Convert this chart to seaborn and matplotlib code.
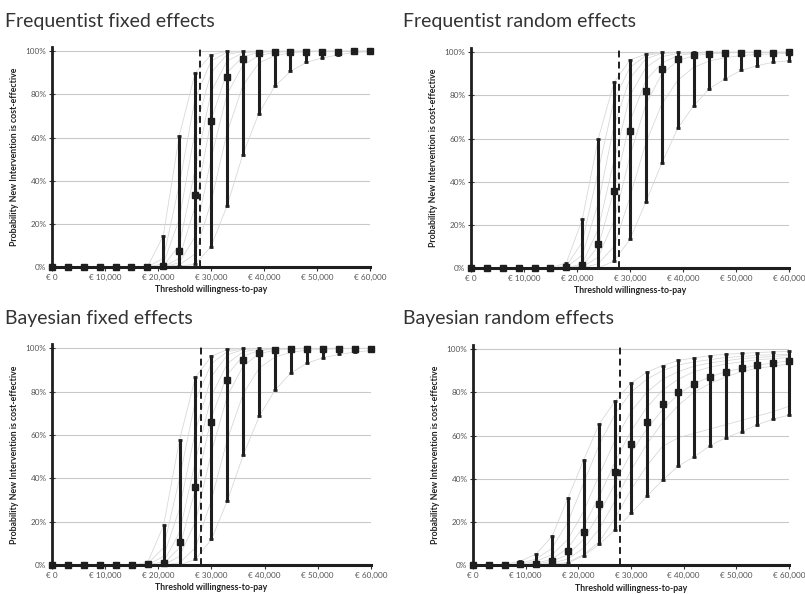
import matplotlib
matplotlib.use("Agg")
import matplotlib.pyplot as plt
import matplotlib.ticker as mticker
import seaborn as sns
import pandas as pd
import numpy as np

# ------------------------------------------------------------
# data (probability in %)
# ------------------------------------------------------------
wtp = [0, 3000, 6000, 9000, 12000, 15000, 18000, 21000, 24000, 27000, 30000,
       33000, 36000, 39000, 42000, 45000, 48000, 51000, 54000, 57000, 60000]
threshold = 28000

titles = ["Frequentist fixed effects", "Frequentist random effects",
          "Bayesian fixed effects", "Bayesian random effects"]

# --- Frequentist fixed effects
ffe_mean = [0, 0, 0, 0, 0, 0, 0, 0.3, 7.2, 33.4, 67.8, 87.9, 96.4, 99.0, 99.5, 99.8, 99.8, 99.9, 99.9, 100, 100]
ffe_low = [0, 0, 0, 0, 0, 0, 0, 0, 0.5, 1.2, 9.5, 28.1, 52.1, 71.0, 83.7, 90.7, 94.9, 96.9, 98.3, 99.5, 99.8]
ffe_high = [0, 0, 0, 0, 0, 0, 0, 14.5, 60.7, 89.9, 98.4, 100, 100, 100, 100, 100, 100, 100, 100, 100, 100]
ffe_curves = [
    [0, 0, 0, 0, 0, 0, 0, 14.5, 60.7, 89.9, 98.4, 100, 100, 100, 100, 100, 100, 100, 100, 100, 100],
    [0, 0, 0, 0, 0, 0, 0, 4, 38, 78, 95.5, 99.5, 100, 100, 100, 100, 100, 100, 100, 100, 100],
    [0, 0, 0, 0, 0, 0, 0, 1.5, 22, 63, 90, 98.5, 99.8, 100, 100, 100, 100, 100, 100, 100, 100],
    [0, 0, 0, 0, 0, 0, 0, 0.5, 10, 45, 81, 95.5, 99.2, 99.9, 100, 100, 100, 100, 100, 100, 100],
    [0, 0, 0, 0, 0, 0, 0, 0, 4, 28, 68, 90, 97.5, 99.5, 99.9, 100, 100, 100, 100, 100, 100],
    [0, 0, 0, 0, 0, 0, 0, 0, 2, 14, 50, 80, 93.5, 98, 99.5, 99.9, 100, 100, 100, 100, 100],
    [0, 0, 0, 0, 0, 0, 0, 0, 1, 6, 30, 62, 84, 94.5, 98, 99.3, 99.8, 99.9, 100, 100, 100],
    [0, 0, 0, 0, 0, 0, 0, 0, 0.5, 1.2, 9.5, 28.1, 52.1, 71, 83.7, 90.7, 94.9, 96.9, 98.3, 99.5, 99.8],
]

# --- Frequentist random effects
fre_mean = [0, 0, 0, 0, 0, 0, 0.3, 1.2, 11.0, 35.6, 63.3, 81.9, 92.3, 96.7, 98.6, 99.2, 99.7, 99.9, 99.9, 99.9, 100]
fre_low = [0, 0, 0, 0, 0, 0, 0, 0, 0, 3.3, 13.3, 30.7, 48.6, 64.7, 75.2, 83.2, 87.8, 91.7, 93.8, 95.4, 96.1]
fre_high = [0, 0, 0, 0, 0, 0, 2.5, 22.6, 59.8, 86.1, 96.4, 99.2, 100, 100, 100, 100, 100, 100, 100, 100, 100]
fre_curves = [
    [0, 0, 0, 0, 0, 0, 2.5, 22.6, 59.8, 86.1, 96.4, 99.2, 100, 100, 100, 100, 100, 100, 100, 100, 100],
    [0, 0, 0, 0, 0, 0, 1, 12, 45, 78, 93, 98.5, 99.8, 100, 100, 100, 100, 100, 100, 100, 100],
    [0, 0, 0, 0, 0, 0, 0.5, 6, 30, 66, 88, 97, 99.5, 99.9, 100, 100, 100, 100, 100, 100, 100],
    [0, 0, 0, 0, 0, 0, 0, 2, 18, 50, 80, 93, 98, 99.5, 99.8, 100, 100, 100, 100, 100, 100],
    [0, 0, 0, 0, 0, 0, 0, 1, 10, 36, 68, 87, 95, 98.5, 99.5, 99.8, 100, 100, 100, 100, 100],
    [0, 0, 0, 0, 0, 0, 0, 0.5, 5, 22, 52, 76, 90, 96, 98.5, 99.3, 99.7, 99.9, 100, 100, 100],
    [0, 0, 0, 0, 0, 0, 0, 0, 2, 10, 33, 58, 76, 87, 93, 96, 97.5, 98.5, 99, 99.3, 99.5],
    [0, 0, 0, 0, 0, 0, 0, 0, 0, 3.3, 13.3, 30.7, 48.6, 64.7, 75.2, 83.2, 87.8, 91.7, 93.8, 95.4, 96.1],
]

# --- Bayesian fixed effects
bfe_mean = [0, 0, 0, 0, 0, 0, 0.3, 0.9, 10.4, 35.9, 66.1, 85.6, 94.6, 97.7, 99.2, 99.7, 99.7, 99.7, 99.7, 99.7, 99.7]
bfe_low = [0, 0, 0, 0, 0, 0, 0, 0, 0, 2.6, 11.8, 29.6, 50.8, 68.6, 80.9, 88.7, 93.2, 95.7, 97.2, 98.3, 99.0]
bfe_high = [0, 0, 0, 0, 0, 0, 1.2, 18.3, 57.7, 86.7, 96.4, 99.5, 100, 100, 100, 100, 100, 100, 100, 100, 100]
bfe_curves = [
    [0, 0, 0, 0, 0, 0, 1.2, 18.3, 57.7, 86.7, 96.4, 99.5, 100, 100, 100, 100, 100, 100, 100, 100, 100],
    [0, 0, 0, 0, 0, 0, 0.5, 8, 40, 76, 93, 98.5, 99.8, 100, 100, 100, 100, 100, 100, 100, 100],
    [0, 0, 0, 0, 0, 0, 0, 4, 26, 62, 87, 97, 99.5, 100, 100, 100, 100, 100, 100, 100, 100],
    [0, 0, 0, 0, 0, 0, 0, 1.5, 15, 48, 78, 93, 98.5, 99.6, 99.9, 100, 100, 100, 100, 100, 100],
    [0, 0, 0, 0, 0, 0, 0, 0.5, 8, 35, 68, 88, 96.5, 99, 99.7, 99.9, 100, 100, 100, 100, 100],
    [0, 0, 0, 0, 0, 0, 0, 0, 4, 20, 52, 78, 92, 97.5, 99.2, 99.7, 99.9, 100, 100, 100, 100],
    [0, 0, 0, 0, 0, 0, 0, 0, 1, 8, 30, 58, 79, 91, 96, 98.2, 99.2, 99.6, 99.8, 99.9, 100],
    [0, 0, 0, 0, 0, 0, 0, 0, 0, 2.6, 11.8, 29.6, 50.8, 68.6, 80.9, 88.7, 93.2, 95.7, 97.2, 98.3, 99],
]

# --- Bayesian random effects
bre_mean = [0.2, 0.2, 0.3, 0.6, 0.8, 2.0, 6.7, 15.5, 28.5, 43.0, 56.0, 66.4, 74.4, 80.2, 84.0, 87.2, 89.2, 91.0, 92.4, 93.4, 94.3]
bre_low = [0, 0, 0, 0, 0, 0, 1.1, 4.5, 9.8, 16.6, 24.0, 31.9, 39.4, 46.0, 50.2, 55.3, 59.0, 61.8, 65.0, 67.6, 69.4]
bre_high = [0.3, 0.3, 0.5, 2.0, 5.3, 13.5, 31.0, 48.6, 65.5, 75.9, 84.2, 89.2, 92.3, 94.7, 95.8, 96.9, 97.5, 97.9, 98.3, 98.6, 98.8]
bre_curves = [
    [0, 0, 0.5, 2, 5.3, 13.5, 31, 48.6, 65.5, 75.9, 84.2, 89.2, 92.3, 94.7, 95.8, 96.9, 97.5, 97.9, 98.3, 98.6, 98.8],
    [0, 0, 0.2, 1, 3, 8, 20, 38, 56, 70, 80, 86, 90, 92.5, 94, 95, 96, 96.5, 97, 97.3, 97.5],
    [0, 0, 0, 0.5, 2, 5, 12, 25, 42, 58, 71, 80, 86, 89.5, 92, 93.5, 94.5, 95.5, 96, 96.5, 97],
    [0, 0, 0, 0.3, 1, 3, 8, 18, 32, 48, 62, 73, 81, 86, 89.5, 91.5, 93, 94, 95, 95.5, 96],
    [0, 0, 0, 0, 0.5, 2, 5, 12, 24, 38, 52, 63, 72, 79, 84, 87, 89.5, 91, 92.5, 93.5, 94.5],
    [0, 0, 0, 0, 0.3, 1, 3, 8, 17, 30, 44, 56, 66, 74, 80, 84, 87, 89.5, 91, 92, 93],
    [0, 0, 0, 0, 0, 0.5, 1.5, 5, 11, 22, 35, 46, 55, 59, 61, 63, 65, 67, 69, 71, 73.5],
    [0, 0, 0, 0, 0, 0, 1.1, 4.5, 9.8, 16.6, 24, 31.9, 39.4, 46, 50.2, 55.3, 59, 61.8, 65, 67.6, 69.4],
]

panels = [
    (ffe_mean, ffe_low, ffe_high, ffe_curves),
    (fre_mean, fre_low, fre_high, fre_curves),
    (bfe_mean, bfe_low, bfe_high, bfe_curves),
    (bre_mean, bre_low, bre_high, bre_curves),
]

# ------------------------------------------------------------
# style
# ------------------------------------------------------------
sns.set_theme(style="white")
plt.rcParams['font.family'] = ['Lato', 'DejaVu Sans']

fig = plt.figure(figsize=(8.05, 5.94), dpi=100)

# [left, bottom, width, height] in figure fraction
axes_pos = [
    [0.0646, 0.5505, 0.395, 0.3704],
    [0.5851, 0.5488, 0.395, 0.3704],
    [0.0646, 0.0488, 0.396, 0.3720],
    [0.5876, 0.0480, 0.3925, 0.3720],
]
title_pos = [(0.006, 0.955), (0.500, 0.955), (0.006, 0.455), (0.500, 0.455)]

for k, (mean, low, high, curves) in enumerate(panels):
    ax = fig.add_axes(axes_pos[k])

    # thin grey curves (one per scenario)
    long = pd.DataFrame({
        "wtp": np.tile(wtp, len(curves)),
        "prob": np.concatenate(curves),
        "curve": np.repeat(np.arange(len(curves)), len(wtp)),
    })
    sns.lineplot(data=long, x="wtp", y="prob", units="curve", estimator=None,
                 color="#d6d6d6", linewidth=0.55, ax=ax, legend=False, zorder=2)

    # mean with min-max range
    m = np.array(mean)
    ax.errorbar(wtp, m, yerr=[m - np.array(low), np.array(high) - m],
                fmt="s", color="#1e1e1e", ecolor="#1e1e1e", elinewidth=2.2,
                capsize=1.6, capthick=2.0, markersize=4.2, zorder=4, clip_on=False)

    # willingness-to-pay threshold
    ax.axvline(threshold, color="#1e1e1e", linestyle=(0, (3.5, 2.2)),
               linewidth=1.4, zorder=5)

    ax.set_xlim(0, 60000)
    ax.set_ylim(0, 102)
    ax.xaxis.set_major_locator(mticker.MultipleLocator(10000))
    ax.xaxis.set_major_formatter(mticker.FuncFormatter(lambda v, p: "€ {:,.0f}".format(v)))
    ax.set_yticks([0, 20, 40, 60, 80, 100])
    ax.yaxis.set_major_formatter(mticker.FuncFormatter(lambda v, p: "{:.0f}%".format(v)))

    ax.grid(axis="y", color="#c9c9c9", linewidth=0.8)
    ax.grid(axis="x", visible=False)
    for s in ["top", "right"]:
        ax.spines[s].set_visible(False)
    ax.spines["left"].set_color("#1e1e1e")
    ax.spines["left"].set_linewidth(2.0)
    ax.spines["bottom"].set_color("#1e1e1e")
    ax.spines["bottom"].set_linewidth(2.2)
    ax.spines["bottom"].set_zorder(6)

    ax.tick_params(axis="x", direction="out", length=3, width=0.8, color="#333333",
                   labelsize=5.9, labelcolor="#555555", pad=2, bottom=True)
    ax.tick_params(axis="y", direction="inout", length=4, width=0.8, color="#333333",
                   labelsize=5.9, labelcolor="#555555", pad=2, left=True)

    ax.set_xlabel("Threshold willingness-to-pay", fontsize=6.3, fontweight="bold",
                  color="#222222", labelpad=3)
    ax.set_ylabel("Probability New Intervention is cost-effective", fontsize=6.3,
                  fontweight="bold", color="#222222", labelpad=5)

    fig.text(title_pos[k][0], title_pos[k][1], titles[k], fontsize=14,
             color="#333333", ha="left", va="baseline")

fig.savefig("out.png", dpi=100)
